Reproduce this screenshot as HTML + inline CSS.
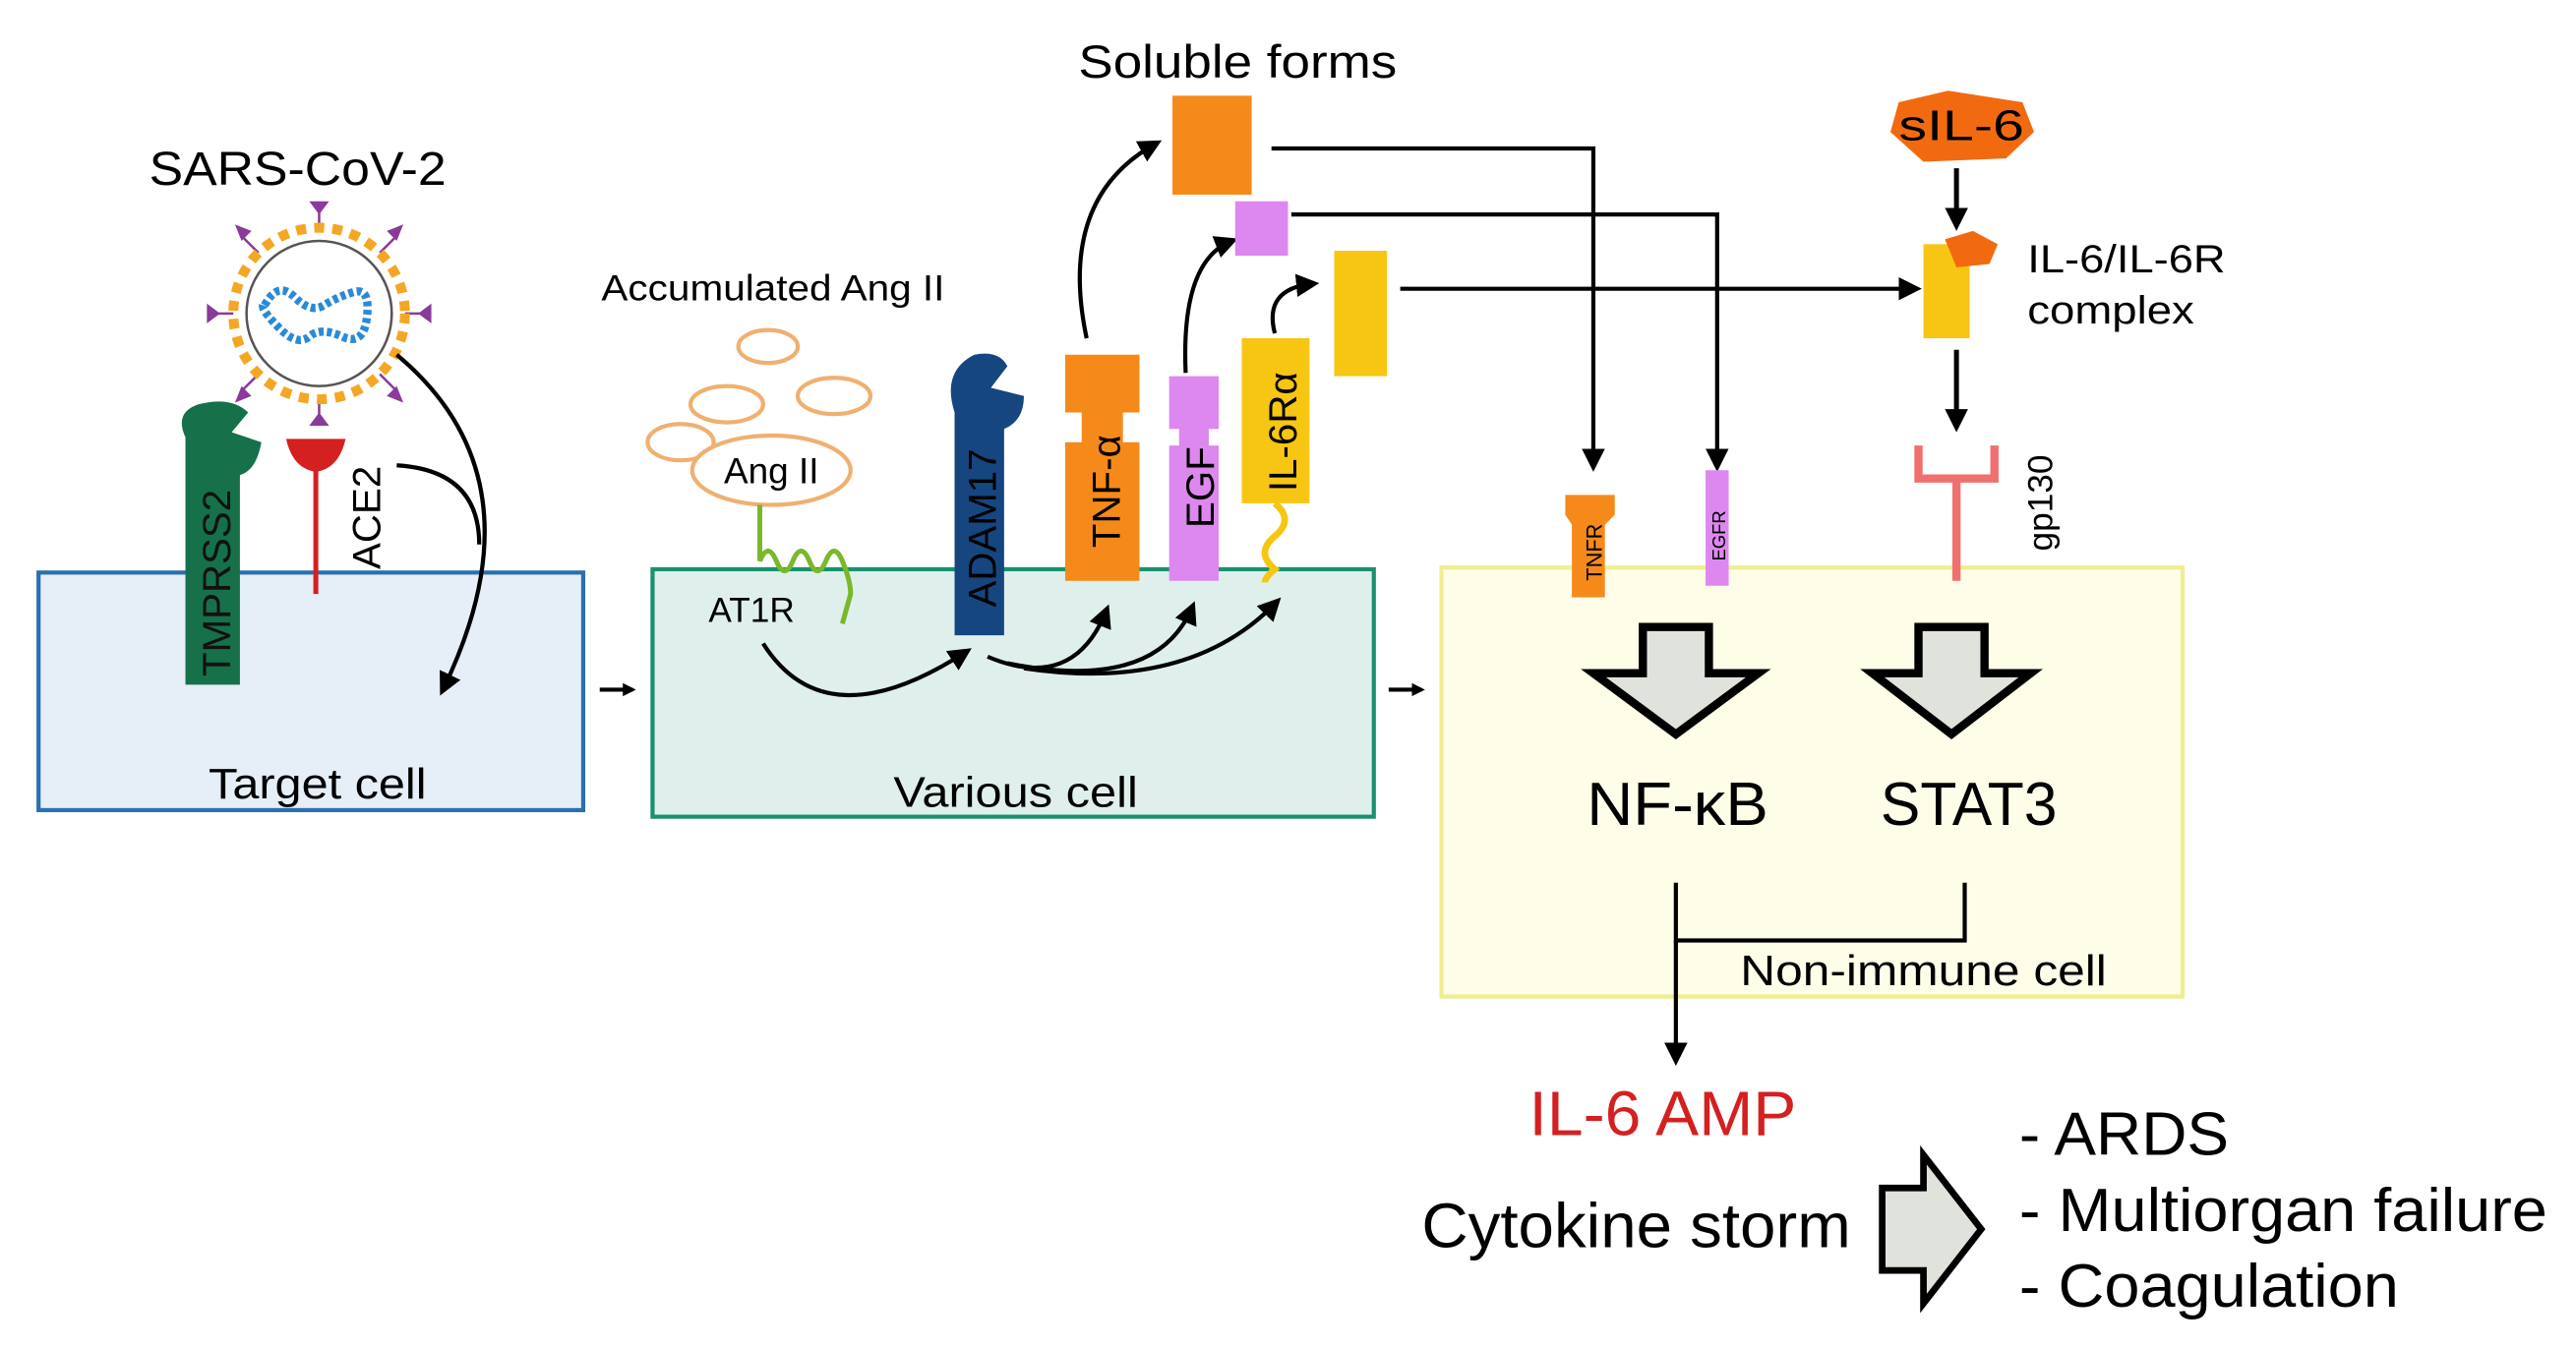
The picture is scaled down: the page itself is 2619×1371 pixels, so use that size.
<!DOCTYPE html>
<html><head><meta charset="utf-8"><style>html,body{margin:0;padding:0;background:#fff}svg{display:block}text{font-family:"Liberation Sans",sans-serif}</style></head>
<body>
<svg width="2619" height="1371" viewBox="0 0 1560 817" xmlns="http://www.w3.org/2000/svg">
<defs>
<marker id="ah" markerWidth="8" markerHeight="8" refX="6" refY="4" orient="auto" markerUnits="userSpaceOnUse"><path d="M0,0 L8,4 L0,8 z" fill="#000"/></marker>
<marker id="ah2" markerWidth="14" markerHeight="14" refX="10" refY="7" orient="auto" markerUnits="userSpaceOnUse"><path d="M0,0 L14,7 L0,14 z" fill="#000"/></marker>
</defs>
<rect width="1560" height="817" fill="#fff"/>
<rect x="23" y="347" width="330" height="144" fill="#e6eef8" stroke="#2a6fb0" stroke-width="2.5"/>
<rect x="395" y="345" width="437" height="150" fill="#dff0ec" stroke="#1a9070" stroke-width="2.5"/>
<rect x="873" y="344" width="449" height="260" fill="#fdfde8" stroke="#efef90" stroke-width="2.5"/>
<line x1="363" y1="418" x2="383" y2="418" stroke="#000" stroke-width="2.5" marker-end="url(#ah)"/>
<line x1="841" y1="418" x2="861" y2="418" stroke="#000" stroke-width="2.5" marker-end="url(#ah)"/>
<text x="126" y="484" font-size="26" textLength="132" lengthAdjust="spacingAndGlyphs">Target cell</text>
<text x="541" y="489" font-size="26" textLength="148" lengthAdjust="spacingAndGlyphs">Various cell</text>
<text x="1054" y="597" font-size="26" textLength="222" lengthAdjust="spacingAndGlyphs">Non-immune cell</text>
<text x="90" y="112" font-size="29" textLength="180" lengthAdjust="spacingAndGlyphs">SARS-CoV-2</text>
<g stroke="#8a3a9a" stroke-width="1.5">
<line x1="193" y1="190" x2="193" y2="125"/><line x1="193" y1="190" x2="193" y2="255"/>
<line x1="193" y1="190" x2="128" y2="190"/><line x1="193" y1="190" x2="258" y2="190"/>
<line x1="193" y1="190" x2="147" y2="144"/><line x1="193" y1="190" x2="239" y2="236"/>
<line x1="193" y1="190" x2="239" y2="144"/><line x1="193" y1="190" x2="147" y2="236"/>
</g>
<g fill="#8a3a9a">
<path d="M187,122 h12 l-6,8z"/><path d="M187,258 h12 l-6,-8z"/><path d="M125,184 v12 l8,-6z"/><path d="M261,184 v12 l-8,-6z"/>
<path d="M142,136 l10,4 l-6,6z"/><path d="M244,244 l-10,-4 l6,-6z"/><path d="M244,136 l-4,10 l-6,-6z"/><path d="M142,244 l4,-10 l6,6z"/>
</g>
<circle cx="193" cy="190" r="52" fill="#fff" stroke="#f5a623" stroke-width="6" stroke-dasharray="6 5"/>
<circle cx="193" cy="190" r="44" fill="#fff" stroke="#555" stroke-width="1.5"/>
<path d="M160,185 q8,-15 18,-5 t18,5 t18,-8 t8,15 t-15,12 t-20,0 t-18,-5 t-10,-14" fill="none" stroke="#2a8ad8" stroke-width="5" stroke-dasharray="3 2"/>
<path d="M112,415 V265 Q105,250 120,245 Q140,240 150,250 L140,262 L158,268 Q155,285 145,288 V415 Z" fill="#16704a"/>
<text transform="translate(139,410) rotate(-90)" font-size="24" fill="#111">TMPRSS2</text>
<line x1="191" y1="282" x2="191" y2="360" stroke="#d42020" stroke-width="3"/>
<path d="M173,266 H209 Q205,284 191,286 Q177,284 173,266z" fill="#d42020"/>
<text transform="translate(230,345) rotate(-90)" font-size="24">ACE2</text>
<path d="M240,215 Q330,290 268,418" fill="none" stroke="#000" stroke-width="2.5" marker-end="url(#ah2)"/>
<path d="M240,282 Q290,285 290,330" fill="none" stroke="#000" stroke-width="2.5"/>
<text x="364" y="182" font-size="22" textLength="208" lengthAdjust="spacingAndGlyphs">Accumulated Ang II</text>
<g fill="#fff" stroke="#f0b070" stroke-width="2.5">
<ellipse cx="465" cy="210" rx="18" ry="10"/><ellipse cx="440" cy="245" rx="22" ry="11"/><ellipse cx="505" cy="240" rx="22" ry="11"/><ellipse cx="412" cy="268" rx="20" ry="11"/>
<ellipse cx="467" cy="285" rx="48" ry="21"/></g>
<text x="467" y="293" font-size="22" text-anchor="middle">Ang II</text>
<path d="M460,306 V340 q5,-12 10,0 q5,12 10,0 q5,-12 10,0 q5,12 10,0 q5,-12 10,0 q5,12 5,20 l-5,18" fill="none" stroke="#7ab82a" stroke-width="3"/>
<text x="455" y="377" font-size="21" text-anchor="middle">AT1R</text>
<path d="M462,390 Q500,450 585,395" fill="none" stroke="#000" stroke-width="2.5" marker-end="url(#ah2)"/>
<path d="M578,385 V250 Q570,225 590,215 Q605,212 610,222 L600,235 L620,240 Q620,255 608,260 V385Z" fill="#16467f"/>
<text transform="translate(603,368) rotate(-90)" font-size="24">ADAM17</text>
<path d="M645,215 H690 V250 H680 V268 H690 V352 H645 V268 H655 V250 H645Z" fill="#f58a1a"/>
<text transform="translate(678,332) rotate(-90)" font-size="24">TNF-α</text>
<path d="M708,228 H738 V260 H732 V270 H738 V352 H708 V270 H714 V260 H708Z" fill="#dd88ee"/>
<text transform="translate(735,320) rotate(-90)" font-size="24">EGF</text>
<path d="M752,205 H793 V305 H752Z" fill="#f7c613"/>
<text transform="translate(785,298) rotate(-90)" font-size="24">IL-6Rα</text>
<path d="M772,305 q12,10 0,20 q-12,10 0,20 q-6,5 -6,8" fill="none" stroke="#f7c613" stroke-width="4"/>
<path d="M598,398 Q650,420 670,370" fill="none" stroke="#000" stroke-width="2.5" marker-end="url(#ah2)"/>
<path d="M610,402 Q700,420 722,368" fill="none" stroke="#000" stroke-width="2.5" marker-end="url(#ah2)"/>
<path d="M620,405 Q720,420 773,365" fill="none" stroke="#000" stroke-width="2.5" marker-end="url(#ah2)"/>
<path d="M658,205 Q640,120 700,87" fill="none" stroke="#000" stroke-width="2.5" marker-end="url(#ah2)"/>
<path d="M718,226 Q715,158 746,146" fill="none" stroke="#000" stroke-width="2.5" marker-end="url(#ah2)"/>
<path d="M772,202 Q765,175 795,172" fill="none" stroke="#000" stroke-width="2.5" marker-end="url(#ah2)"/>
<text x="653" y="47" font-size="28" textLength="193" lengthAdjust="spacingAndGlyphs">Soluble forms</text>
<rect x="710" y="58" width="48" height="60" fill="#f58a1a"/>
<rect x="748" y="122" width="32" height="33" fill="#dd88ee"/>
<rect x="808" y="152" width="32" height="76" fill="#f7c613"/>
<path d="M770,90 H965 V282" fill="none" stroke="#000" stroke-width="2.5" marker-end="url(#ah2)"/>
<path d="M782,130 H1040 V282" fill="none" stroke="#000" stroke-width="2.5" marker-end="url(#ah2)"/>
<path d="M848,175 H1160" fill="none" stroke="#000" stroke-width="2.5" marker-end="url(#ah2)"/>
<path d="M1150,62 L1180,55 L1225,62 L1232,80 L1215,96 L1165,98 L1145,80Z" fill="#f26a10"/>
<text x="1150" y="85" font-size="26" textLength="76" lengthAdjust="spacingAndGlyphs">sIL-6</text>
<line x1="1185" y1="102" x2="1185" y2="136" stroke="#000" stroke-width="3" marker-end="url(#ah2)"/>
<rect x="1165" y="148" width="28" height="57" fill="#f7c613"/>
<path d="M1178,145 L1195,140 L1210,148 L1205,160 L1185,162Z" fill="#f26a10"/>
<text x="1228" y="165" font-size="24" textLength="120" lengthAdjust="spacingAndGlyphs">IL-6/IL-6R</text>
<text x="1228" y="196" font-size="24" textLength="101" lengthAdjust="spacingAndGlyphs">complex</text>
<line x1="1185" y1="212" x2="1185" y2="258" stroke="#000" stroke-width="3" marker-end="url(#ah2)"/>
<path d="M1162,270 V290 H1208 V270 M1185,290 V352" fill="none" stroke="#f07070" stroke-width="5"/>
<text transform="translate(1243,334) rotate(-90)" font-size="21">gp130</text>
<path d="M948,300 H978 V312 L972,318 V362 H952 V318 L948,312Z" fill="#f58a1a"/>
<text transform="translate(970,352) rotate(-90)" font-size="13">TNFR</text>
<rect x="1033" y="285" width="14" height="70" fill="#dd88ee"/>
<text transform="translate(1045,340) rotate(-90)" font-size="11">EGFR</text>
<path d="M995,380 H1035 V408 H1065 L1015,445 L965,408 H995Z" fill="#e0e3dc" stroke="#000" stroke-width="5"/>
<path d="M1162,380 H1202 V408 H1230 L1182,445 L1134,408 H1162Z" fill="#e0e3dc" stroke="#000" stroke-width="5"/>
<text x="961" y="500" font-size="37" textLength="110" lengthAdjust="spacingAndGlyphs">NF-κB</text>
<text x="1139" y="500" font-size="37" textLength="107" lengthAdjust="spacingAndGlyphs">STAT3</text>
<path d="M1015,535 V570 H1190 V535" fill="none" stroke="#000" stroke-width="2.5"/>
<line x1="1015" y1="570" x2="1015" y2="642" stroke="#000" stroke-width="2.5" marker-end="url(#ah2)"/>
<text x="926" y="688" font-size="38" fill="#d42020" textLength="162" lengthAdjust="spacingAndGlyphs">IL-6 AMP</text>
<text x="861" y="756" font-size="38" textLength="260" lengthAdjust="spacingAndGlyphs">Cytokine storm</text>
<path d="M1140,720 H1165 V700 L1200,745 L1165,790 V770 H1140Z" fill="#e0e3dc" stroke="#000" stroke-width="4"/>
<text x="1223" y="700" font-size="37" textLength="127" lengthAdjust="spacingAndGlyphs">- ARDS</text>
<text x="1223" y="746" font-size="37" textLength="320" lengthAdjust="spacingAndGlyphs">- Multiorgan failure</text>
<text x="1223" y="792" font-size="37" textLength="230" lengthAdjust="spacingAndGlyphs">- Coagulation</text>
</svg>
</body></html>
